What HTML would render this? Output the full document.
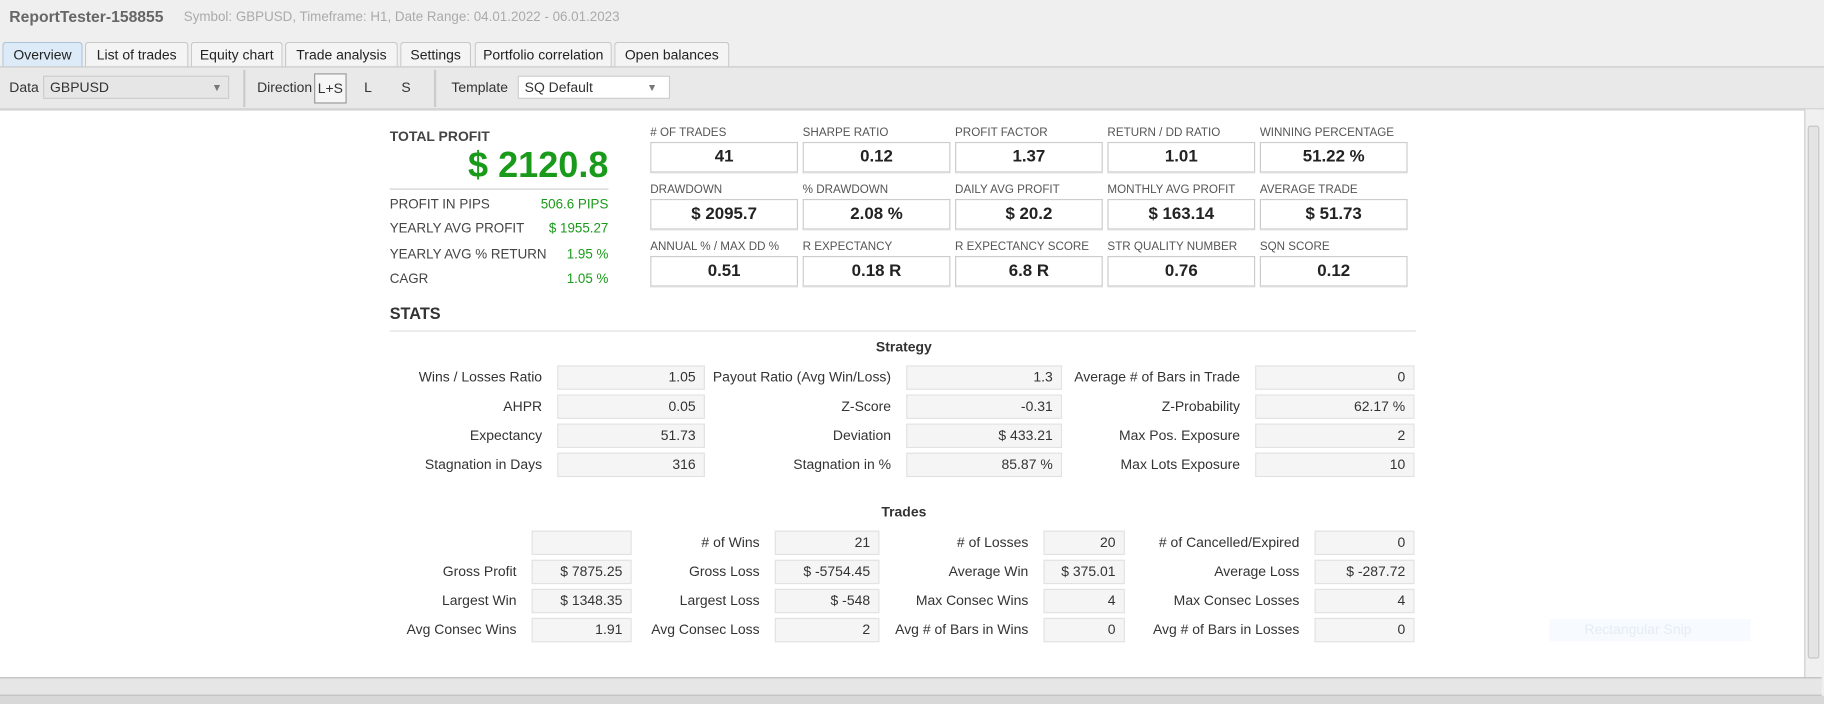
<!DOCTYPE html>
<html><head><meta charset="utf-8">
<style>
*{box-sizing:border-box;margin:0;padding:0}
html,body{width:1824px;height:704px;overflow:hidden;background:#fff}
#root{position:absolute;left:0;top:0;width:1568px;height:605px;transform:scale(1.16327,1.1636);transform-origin:0 0;font-family:"Liberation Sans Narrow","Liberation Sans",sans-serif;font-size:12px;color:#333;background:#efefef}
.a{position:absolute;white-space:nowrap}
.tab{position:absolute;top:36px;height:22px;border:1px solid #c8c8c8;border-bottom:none;background:#f4f4f4;border-radius:3px 3px 0 0;text-align:center;line-height:20px;font-size:12px;color:#222}
.sel{position:absolute;height:20px;border:1px solid #ccc;background:#e6e6e6;font-size:12px;line-height:18px;padding-left:5px}
.mlab{position:absolute;font-family:"Liberation Sans",sans-serif;font-size:10px;color:#555}
.mbox{position:absolute;width:127px;height:27px;border:1px solid #ccc;border-bottom:2px solid #ddd;background:#fff;text-align:center;font-family:"Liberation Sans",sans-serif;font-weight:bold;font-size:14.5px;line-height:25px;color:#222}
.lab{position:absolute;text-align:right;font-size:12px;line-height:20px;color:#333}
.box{position:absolute;height:21px;background:#f5f5f5;border:1px solid #e2e2e2;text-align:right;padding-right:7px;font-size:12px;line-height:19px;color:#333}
.lrow{position:absolute;left:335px;width:188px;font-size:11.5px;color:#444}
.lrow span{position:absolute;right:0;color:#1a9a1a}
</style></head><body>
<div id="root">
<div class="a" style="left:8px;top:7px;font-family:'Liberation Sans',sans-serif;font-weight:bold;font-size:13.5px;color:#666">ReportTester-158855</div>
<div class="a" style="left:158px;top:9px;font-size:11.5px;color:#aaa">Symbol: GBPUSD, Timeframe: H1, Date Range: 04.01.2022 - 06.01.2023</div>

<div class="tab" style="left:2px;width:69px;background:#dcebf7;border-color:#a9c4dc">Overview</div>
<div class="tab" style="left:73px;width:89px">List of trades</div>
<div class="tab" style="left:164px;width:79px">Equity chart</div>
<div class="tab" style="left:245px;width:97px">Trade analysis</div>
<div class="tab" style="left:344px;width:61px">Settings</div>
<div class="tab" style="left:408px;width:118px">Portfolio correlation</div>
<div class="tab" style="left:528px;width:99px">Open balances</div>

<div class="a" style="left:0;top:57px;width:1568px;height:37px;background:#e9e9e9;border-top:1px solid #c8c8c8;border-bottom:1px solid #d0d0d0"></div>
<div class="a" style="left:8px;top:68px">Data</div>
<div class="sel" style="left:37px;top:65px;width:160px">GBPUSD<span style="position:absolute;right:5px;font-size:9px;color:#777">▼</span></div>
<div class="a" style="left:209px;top:60px;width:2px;height:32px;background:#ccc"></div>
<div class="a" style="left:221px;top:68px">Direction</div>
<div class="a" style="left:270px;top:63px;width:28px;height:26px;border:1px solid #999;background:#f6f6f6;text-align:center;line-height:24px">L+S</div>
<div class="a" style="left:313px;top:68px">L</div>
<div class="a" style="left:345px;top:68px">S</div>
<div class="a" style="left:373px;top:60px;width:2px;height:32px;background:#ccc"></div>
<div class="a" style="left:388px;top:68px">Template</div>
<div class="sel" style="left:445px;top:65px;width:131px;background:#fff">SQ Default<span style="position:absolute;right:10px;font-size:9px;color:#777">▼</span></div>

<div class="a" style="left:0;top:94px;width:1552px;height:488px;background:#fff;border-top:1px solid #ccc"></div>
<div class="a" style="left:1551px;top:94px;width:15px;height:488px;background:#f0f0f0;border-left:1px solid #ccc"><div style="position:absolute;left:2px;top:14px;width:10px;height:458px;background:#e4e4e4;border:1px solid #c6c6c6;border-radius:2px"></div></div>
<div class="a" style="left:0;top:582px;width:1566px;height:16px;background:#e6e6e6;border-top:1px solid #bbb;border-bottom:1px solid #bbb"></div>
<div class="a" style="left:0;top:598px;width:1568px;height:7px;background:#d8d8d8"></div>

<div class="a" style="left:335px;top:110px;font-family:'Liberation Sans',sans-serif;font-weight:bold;font-size:12px;color:#444">TOTAL PROFIT</div>
<div class="a" style="left:335px;width:188px;top:124px;text-align:right;font-family:'Liberation Sans',sans-serif;font-weight:bold;font-size:31px;color:#1a9a1a">$ 2120.8</div>
<div class="a" style="left:335px;top:162px;width:188px;height:1px;background:#ccc"></div>
<div class="lrow a" style="top:170px">PROFIT IN PIPS<span>506.6 PIPS</span></div>
<div class="lrow a" style="top:191px">YEARLY AVG PROFIT<span>$ 1955.27</span></div>
<div class="lrow a" style="top:213px">YEARLY AVG % RETURN<span>1.95 %</span></div>
<div class="lrow a" style="top:234px">CAGR<span>1.05 %</span></div>

<div id="metrics"></div>

<div class="a" style="left:335px;top:261px;font-family:'Liberation Sans',sans-serif;font-weight:bold;font-size:14px;color:#333">STATS</div>
<div class="a" style="left:335px;top:284px;width:882px;height:1px;background:#ddd"></div>
<div class="a" style="left:700px;width:154px;top:291px;text-align:center;font-weight:bold;font-size:12px">Strategy</div>
<div class="a" style="left:700px;width:154px;top:433px;text-align:center;font-weight:bold;font-size:12px">Trades</div>
<div class="a" style="left:1332px;top:532px;width:173px;height:19px;background:#f7fafe;color:#e4ecf4;font-size:12px;line-height:19px;padding-left:30px">Rectangular Snip</div>
<div id="tables"></div>
</div>
<script>
const mLabels=[["# OF TRADES","SHARPE RATIO","PROFIT FACTOR","RETURN / DD RATIO","WINNING PERCENTAGE"],["DRAWDOWN","% DRAWDOWN","DAILY AVG PROFIT","MONTHLY AVG PROFIT","AVERAGE TRADE"],["ANNUAL % / MAX DD %","R EXPECTANCY","R EXPECTANCY SCORE","STR QUALITY NUMBER","SQN SCORE"]];
const mValues=[["41","0.12","1.37","1.01","51.22 %"],["$ 2095.7","2.08 %","$ 20.2","$ 163.14","$ 51.73"],["0.51","0.18 R","6.8 R","0.76","0.12"]];
const stratLabels=[["Wins / Losses Ratio","Payout Ratio (Avg Win/Loss)","Average # of Bars in Trade"],["AHPR","Z-Score","Z-Probability"],["Expectancy","Deviation","Max Pos. Exposure"],["Stagnation in Days","Stagnation in %","Max Lots Exposure"]];
const stratValues=[["1.05","1.3","0"],["0.05","-0.31","62.17 %"],["51.73","$ 433.21","2"],["316","85.87 %","10"]];
const tradeLabels=[["","# of Wins","# of Losses","# of Cancelled/Expired"],["Gross Profit","Gross Loss","Average Win","Average Loss"],["Largest Win","Largest Loss","Max Consec Wins","Max Consec Losses"],["Avg Consec Wins","Avg Consec Loss","Avg # of Bars in Wins","Avg # of Bars in Losses"]];
const tradeValues=[["","21","20","0"],["$ 7875.25","$ -5754.45","$ 375.01","$ -287.72"],["$ 1348.35","$ -548","4","4"],["1.91","2","0","0"]];
const M=document.getElementById('metrics');
mLabels.forEach((row,r)=>row.forEach((l,c)=>{
 const x=559+c*131,y=109+r*49;
 const la=document.createElement('div');la.className='mlab';la.style.left=x+'px';la.style.top=y+'px';la.textContent=l;
 
 
 M.appendChild(la);
 const b=document.createElement('div');b.className='mbox';b.style.left=x+'px';b.style.top=(y+13)+'px';b.textContent=mValues[r][c];
 
 
 M.appendChild(b);
}));
const T=document.getElementById('tables');
function grid(labels,values,top,labRight,boxL,boxW){
 labels.forEach((row,r)=>row.forEach((l,c)=>{
  const y=top+r*25;
  const la=document.createElement('div');la.className='lab';la.style.left=(labRight[c]-200)+'px';la.style.width='200px';la.style.top=y+'px';la.textContent=l;
  
  
  T.appendChild(la);
  const b=document.createElement('div');b.className='box';b.style.left=boxL[c]+'px';b.style.width=boxW[c]+'px';b.style.top=y+'px';b.textContent=values[r][c];
  
  
  T.appendChild(b);
 }));
}
grid(stratLabels,stratValues,314,[466,766,1066],[479,779,1079],[127,134,137]);
grid(tradeLabels,tradeValues,456,[444,653,884,1117],[457,666,897,1130],[86,90,70,86]);
</script>
</body></html>
